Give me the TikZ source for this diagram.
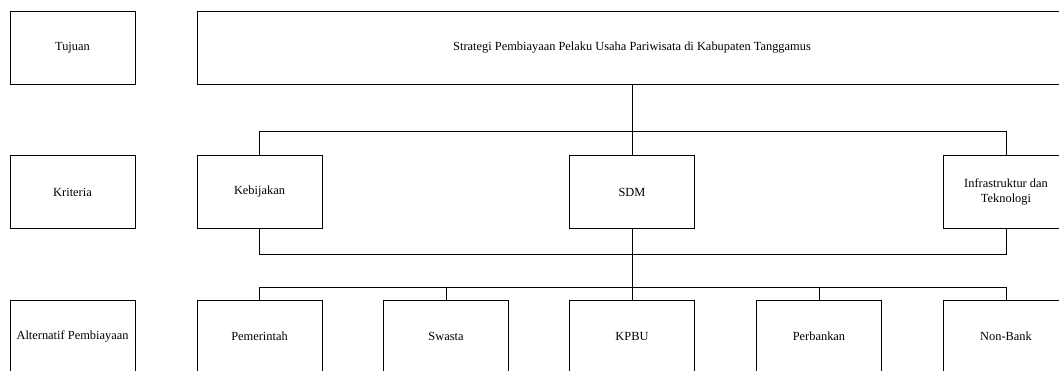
\documentclass[tikz,border=0pt]{standalone}
\usepackage{fontspec}
\setmainfont{Liberation Serif}
\usepackage{tikz}

\begin{document}
\begin{tikzpicture}[x=1pt,y=-1pt,
  box/.style={draw,line width=0.8pt,minimum width=125pt,minimum height=73pt,
    inner sep=2pt,align=center,font=\fontsize{12.4}{15.5}\selectfont},
  link/.style={draw,line width=0.8pt}]
\useasboundingbox (0,0) rectangle (1059,370);
\clip (0,0) rectangle (1059,370);

% level names
\node [box] (tujuan) at (72.5,47.5) {Tujuan};
\node [box] (kriteria) at (72.5,192) {Kriteria};
\node [box] (alt) at (72.5,336.5) {Alternatif Pembiayaan};

% goal
\node [box,minimum width=870pt] (strategi) at (632,47.5)
  {Strategi Pembiayaan Pelaku Usaha Pariwisata di Kabupaten Tanggamus};

% criteria
\node [box] (kebijakan) at (259.5,192) {Kebijakan};
\node [box] (sdm) at (632,192) {SDM};
\node [box] (infra) at (1006,192) {Infrastruktur dan\\Teknologi};

% alternatives
\node [box] (pemerintah) at (259.5,336.5) {Pemerintah};
\node [box] (swasta) at (446,336.5) {Swasta};
\node [box] (kpbu) at (632,336.5) {KPBU};
\node [box] (perbankan) at (819,336.5) {Perbankan};
\node [box] (nonbank) at (1006,336.5) {Non-Bank};

\draw [link] (strategi.south) -- (sdm.north);
\draw [link] (kebijakan.north) -- ++(0,-24) -| (infra.north);
\draw [link] (kebijakan.south) -- ++(0,25) -| (infra.south);
\draw [link] (sdm.south) -- (kpbu.north);
\draw [link] (pemerintah.north) -- ++(0,-12) -| (nonbank.north);
\draw [link] (swasta.north) -- ++(0,-12);
\draw [link] (perbankan.north) -- ++(0,-12);
\end{tikzpicture}
\end{document}
